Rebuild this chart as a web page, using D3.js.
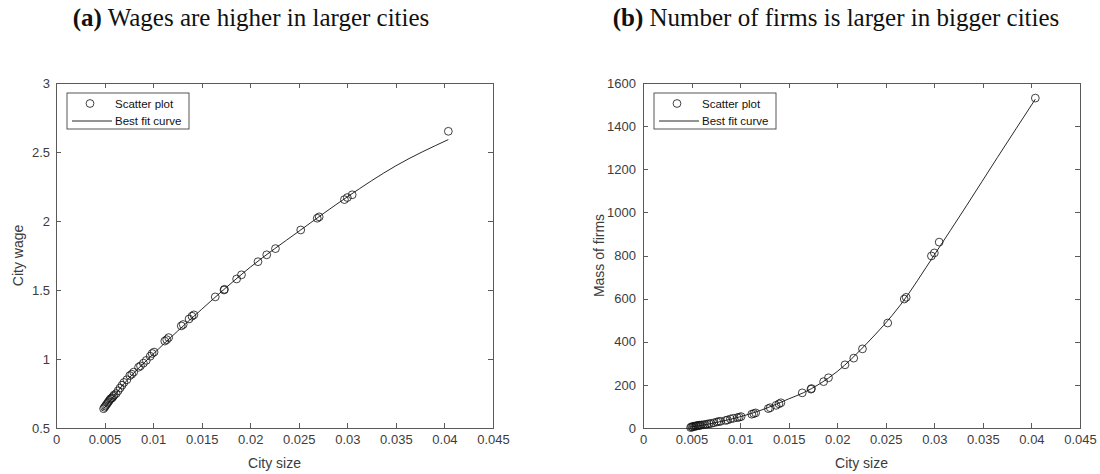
<!DOCTYPE html>
<html>
<head>
<meta charset="utf-8">
<script src="https://cdn.jsdelivr.net/npm/d3@7"></script>
<style>
  body { margin: 0; background: #fff; }
  svg { display: block; }
  .tick text { font-family: "Liberation Sans", Arial, sans-serif; font-size: 13px; fill: #3c3c3c; }
  .axis path, .axis line { stroke: #5a5a5a; stroke-width: 1; shape-rendering: crispEdges; }
  .label { font-family: "Liberation Sans", Arial, sans-serif; font-size: 14px; fill: #3c3c3c; }
  .legend text { font-family: "Liberation Sans", Arial, sans-serif; font-size: 11.5px; fill: #111; }
  .title { font-family: "Liberation Serif", "Times New Roman", serif; font-size: 25px; fill: #111; }
</style>
</head>
<body>
<svg id="chart" width="1100" height="474"></svg>
<script>
// City sizes (share of population) and the outcomes observed in each city
const citySize = [
  0.0049, 0.0050, 0.0051, 0.0052, 0.0053, 0.0054, 0.0055, 0.0056, 0.0057, 0.0058,
  0.0059, 0.0060, 0.0062, 0.0064, 0.0066, 0.0068, 0.0070, 0.0073, 0.0076, 0.0078,
  0.0080, 0.0085, 0.0087, 0.0090, 0.0093, 0.0097, 0.0099, 0.0101, 0.0112, 0.0114,
  0.0116, 0.0129, 0.0131, 0.0137, 0.0140, 0.0142, 0.0164, 0.0173, 0.01735, 0.0186,
  0.0191, 0.0208, 0.0217, 0.0226, 0.0252, 0.0269, 0.0271, 0.0297, 0.0300, 0.0305,
  0.0404
];
const cityWage = [
  0.64, 0.65, 0.66, 0.67, 0.68, 0.69, 0.70, 0.71, 0.715, 0.72,
  0.73, 0.74, 0.75, 0.77, 0.79, 0.81, 0.83, 0.85, 0.88, 0.89,
  0.905, 0.94, 0.95, 0.97, 0.99, 1.02, 1.04, 1.05, 1.13, 1.14,
  1.155, 1.24, 1.25, 1.29, 1.31, 1.32, 1.45, 1.50, 1.505, 1.58,
  1.61, 1.705, 1.755, 1.80, 1.935, 2.02, 2.03, 2.155, 2.17, 2.19,
  2.65
];
const firmMass = [
  2, 6, 4, 8, 7, 10, 9, 11, 12, 13,
  12, 14, 15, 16, 18, 20, 21, 24, 28, 30,
  31, 35, 37, 42, 45, 48, 50, 53, 64, 67,
  70, 90, 94, 105, 112, 117, 163, 180, 183, 215,
  233, 293, 324, 367, 487, 598, 606, 798, 812, 862,
  1530
];

// Fitted curves, sampled along city size
const wageFitSize  = [0.0048, 0.0075, 0.010, 0.015, 0.020, 0.025, 0.030, 0.035, 0.0404];
const wageFitValue = [0.63, 0.86, 1.035, 1.36, 1.665, 1.925, 2.175, 2.40, 2.59];
const firmFitSize  = [0.0048, 0.006, 0.008, 0.010, 0.0125, 0.015, 0.0165, 0.020, 0.023, 0.0265, 0.030, 0.0333, 0.0365, 0.0404];
const firmFitValue = [4, 12, 30, 52, 88, 135, 163, 262, 390, 570, 803, 1030, 1255, 1525];

// Tick labels
const sizeTicks = [0, 0.005, 0.01, 0.015, 0.02, 0.025, 0.03, 0.035, 0.04, 0.045];
const wageTicks = [0.5, 1, 1.5, 2, 2.5, 3];
const firmTicks = [0, 200, 400, 600, 800, 1000, 1200, 1400, 1600];

const legendLabels = ["Scatter plot", "Best fit curve"];

const svg = d3.select("#chart");

function drawPanel(p) {
  const g = svg.append("g");
  const x = d3.scaleLinear().domain([0, 0.045]).range([p.x0, p.x1]);
  const y = d3.scaleLinear().domain([p.yTicks[0], p.yTicks[p.yTicks.length - 1]]).range([p.y1, p.y0]);

  // Box with inward ticks on all four sides
  g.append("g").attr("class", "axis").attr("transform", `translate(0,${p.y1})`)
    .call(d3.axisBottom(x).tickValues(sizeTicks).tickFormat(d => String(d))
      .tickSizeInner(-5).tickSizeOuter(0).tickPadding(7));
  g.append("g").attr("class", "axis").attr("transform", `translate(0,${p.y0})`)
    .call(d3.axisTop(x).tickValues(sizeTicks).tickFormat("")
      .tickSizeInner(-5).tickSizeOuter(0));
  g.append("g").attr("class", "axis").attr("transform", `translate(${p.x0},0)`)
    .call(d3.axisLeft(y).tickValues(p.yTicks).tickFormat(d => String(d))
      .tickSizeInner(-5).tickSizeOuter(0).tickPadding(p.yPad));
  g.append("g").attr("class", "axis").attr("transform", `translate(${p.x1},0)`)
    .call(d3.axisRight(y).tickValues(p.yTicks).tickFormat("")
      .tickSizeInner(-5).tickSizeOuter(0));

  // Scatter of cities
  g.append("g").selectAll("circle")
    .data(citySize.map((s, i) => [s, p.values[i]]))
    .join("circle")
    .attr("cx", d => x(d[0]))
    .attr("cy", d => y(d[1]))
    .attr("r", 3.9)
    .attr("fill", "none")
    .attr("stroke", "#111")
    .attr("stroke-width", 0.8);

  // Best fit curve
  const line = d3.line().x(d => x(d[0])).y(d => y(d[1])).curve(d3.curveMonotoneX);
  g.append("path")
    .datum(p.fitSize.map((s, i) => [s, p.fitValue[i]]))
    .attr("d", line)
    .attr("fill", "none")
    .attr("stroke", "#111")
    .attr("stroke-width", 0.9);

  // Legend
  const lg = g.append("g").attr("class", "legend").attr("transform", `translate(${p.x0 + 11},93)`);
  lg.append("rect").attr("width", 122).attr("height", 36)
    .attr("fill", "#fff").attr("stroke", "#444").attr("stroke-width", 0.9);
  lg.append("circle").attr("cx", 23).attr("cy", 10.5).attr("r", 3.9)
    .attr("fill", "none").attr("stroke", "#111").attr("stroke-width", 0.8);
  lg.append("line").attr("x1", 5).attr("x2", 45).attr("y1", 28).attr("y2", 28)
    .attr("stroke", "#111").attr("stroke-width", 0.9);
  lg.selectAll("text").data(legendLabels).join("text")
    .attr("x", 48).attr("y", (d, i) => 14.5 + i * 17)
    .text(d => d);

  // Axis titles
  g.append("text").attr("class", "label")
    .attr("x", (p.x0 + p.x1) / 2).attr("y", 468)
    .attr("text-anchor", "middle").text("City size");
  g.append("text").attr("class", "label")
    .attr("transform", `translate(${p.yLabelX},${(p.y0 + p.y1) / 2}) rotate(-90)`)
    .attr("text-anchor", "middle").text(p.yLabel);

  // Panel caption
  const t = svg.append("text").attr("class", "title")
    .attr("x", p.titleX).attr("y", 26).attr("text-anchor", "middle");
  t.append("tspan").attr("font-weight", "bold").text(p.tag);
  t.append("tspan").text(" " + p.title);
}

drawPanel({
  x0: 56, x1: 493, y0: 83, y1: 428,
  yTicks: wageTicks, yPad: 6, values: cityWage,
  fitSize: wageFitSize, fitValue: wageFitValue,
  yLabel: "City wage", yLabelX: 22.5,
  tag: "(a)", title: "Wages are higher in larger cities", titleX: 251
});

drawPanel({
  x0: 643, x1: 1080, y0: 83, y1: 428,
  yTicks: firmTicks, yPad: 7, values: firmMass,
  fitSize: firmFitSize, fitValue: firmFitValue,
  yLabel: "Mass of firms", yLabelX: 604,
  tag: "(b)", title: "Number of firms is larger in bigger cities", titleX: 836
});
</script>
</body>
</html>
